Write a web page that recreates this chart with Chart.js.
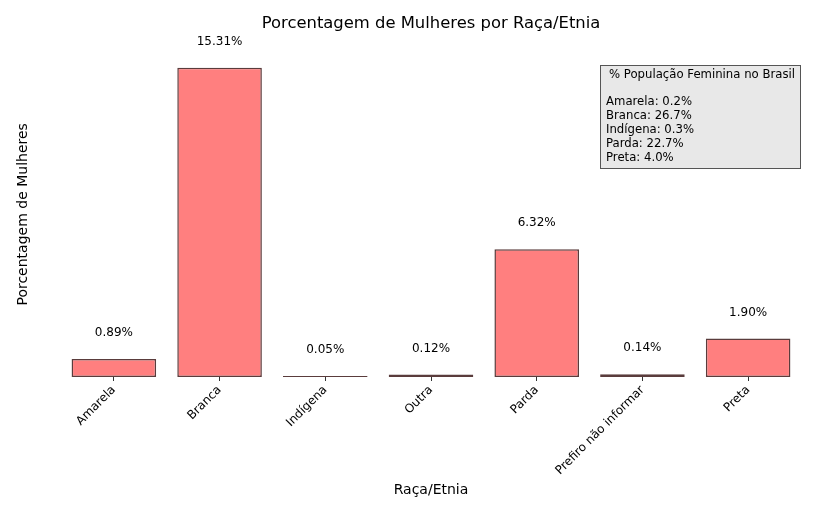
<!DOCTYPE html>
<html>
<head>
<meta charset="utf-8">
<script src="https://cdn.jsdelivr.net/npm/chart.js"></script>
<style>
  body { margin: 0; background: #fff; }
  canvas { display: block; }
</style>
</head>
<body>
<canvas id="chart" width="828" height="512"></canvas>
<script>
/* data */
const categories = ["Amarela", "Branca", "Indígena", "Outra", "Parda", "Prefiro não informar", "Preta"];
const percentages = [0.89, 15.31, 0.05, 0.12, 6.32, 0.14, 1.90];
const popTitle = "% População Feminina no Brasil";
const popLabels = ["Amarela", "Branca", "Indígena", "Parda", "Preta"];
const popValues = [0.2, 26.7, 0.3, 22.7, 4.0];

const FONT = "'DejaVu Sans', sans-serif";

/* value labels above bars */
const valueLabels = {
  id: "valueLabels",
  afterDatasetsDraw(chart) {
    const { ctx, scales: { x, y } } = chart;
    ctx.save();
    ctx.font = "12px " + FONT;
    ctx.fillStyle = "#000";
    ctx.textAlign = "center";
    ctx.textBaseline = "middle";
    percentages.forEach((v, i) => {
      ctx.fillText(v.toFixed(2) + "%", x.getPixelForValue(i), y.getPixelForValue(v) - 26);
    });
    ctx.restore();
  }
};

/* info box top right */
const infoBox = {
  id: "infoBox",
  afterDraw(chart) {
    const ctx = chart.ctx;
    const bx = 600, by = 65, bw = 200, bh = 103;
    ctx.save();
    ctx.fillStyle = "#e8e8e8";
    ctx.fillRect(bx, by, bw, bh);
    ctx.strokeStyle = "#555";
    ctx.lineWidth = 1;
    ctx.strokeRect(bx + 0.5, by + 0.5, bw, bh);
    ctx.font = "11.7px " + FONT;
    ctx.fillStyle = "#000";
    ctx.textBaseline = "middle";
    ctx.textAlign = "center";
    ctx.fillText(popTitle, bx + bw / 2 + 2, by + 10);
    ctx.textAlign = "left";
    popLabels.forEach((l, i) => {
      ctx.fillText(l + ": " + popValues[i].toFixed(1) + "%", bx + 6, by + 37 + i * 14);
    });
    ctx.restore();
  }
};

new Chart(document.getElementById("chart"), {
  type: "bar",
  data: {
    labels: categories,
    datasets: [{
      data: percentages,
      backgroundColor: "#ff7f7f",
      borderColor: "#5a3c3c",
      borderWidth: 1.5,
      borderSkipped: false,
      barPercentage: 0.8,
      categoryPercentage: 1
    }]
  },
  options: {
    responsive: false,
    animation: false,
    layout: { padding: { left: 11, right: 27, top: 0, bottom: 9 } },
    plugins: {
      legend: { display: false },
      tooltip: { enabled: false },
      title: {
        display: true,
        fullSize: false,
        text: "Porcentagem de Mulheres por Raça/Etnia",
        color: "#000",
        font: { family: FONT, size: 16.4, weight: "normal" },
        padding: { top: 14, bottom: 18 }
      }
    },
    scales: {
      x: {
        grid: { display: true, drawOnChartArea: false, drawTicks: true, tickLength: 4, offset: false, color: "#333" },
        border: { display: false },
        ticks: {
          color: "#000",
          font: { family: FONT, size: 12 },
          maxRotation: 45,
          minRotation: 45,
          padding: 2,
          autoSkip: false
        },
        title: {
          display: true,
          text: "Raça/Etnia",
          color: "#000",
          font: { family: FONT, size: 14 }
        },
        afterFit(s) { s.height = 126; }
      },
      y: {
        min: 0,
        max: 16.1,
        grid: { display: false },
        border: { display: false },
        ticks: { display: false },
        title: {
          display: true,
          text: "Porcentagem de Mulheres",
          color: "#000",
          font: { family: FONT, size: 14 }
        },
        afterFit(s) { s.width = 50; }
      }
    }
  },
  plugins: [valueLabels, infoBox]
});
</script>
</body>
</html>
